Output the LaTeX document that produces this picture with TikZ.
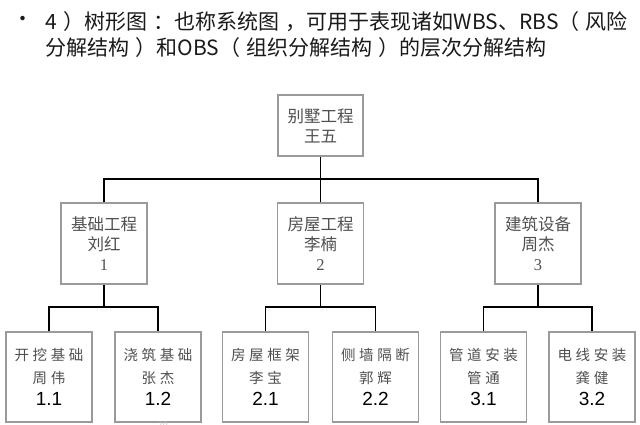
\documentclass[tikz,border=0pt]{standalone}
\usepackage{fontspec}
\setmainfont{Liberation Serif}
\newfontfamily\cjk{Noto Sans CJK SC}
\newfontfamily\cjksp[LetterSpace=25]{Noto Sans CJK SC}
\newfontfamily\numsans{Liberation Sans}
\newfontfamily\numserif{Liberation Serif}
\definecolor{bordergray}{HTML}{9A9A9A}
\definecolor{textgray}{HTML}{505050}
\definecolor{titlecol}{HTML}{1A1A1A}
\newcommand{\ps}{\hspace{0.3em}}
\tikzset{
  box/.style={draw=bordergray, line width=1.5pt, fill=white, inner sep=0pt, align=center, text=textgray},
  topbox/.style={box, minimum width=85pt, minimum height=61pt, font=\cjk\fontsize{16.5}{20}\selectfont},
  midbox/.style={box, minimum width=86pt, minimum height=81pt, font=\cjk\fontsize{16.5}{20}\selectfont},
  botbox/.style={box, minimum width=86pt, minimum height=90pt, font=\cjksp\fontsize{14.5}{22.5}\selectfont},
  link/.style={line width=1.5pt, black},
  titletext/.style={anchor=base west, inner sep=0pt, text=titlecol, font=\cjk\fontsize{21}{24}\selectfont}
}
\begin{document}
\begin{tikzpicture}[x=1pt,y=-1pt]
\clip (0,0) rectangle (640,425);
\fill[white] (0,0) rectangle (640,425);
% title
\node[titletext, anchor=center] (bullet) at (23,21) {•};
\node[titletext] (t1) at (45,29.5) {4\ps）树形图\ps：也称系统图\ps，可用于表现诸如WBS、RBS（\ps 风险};
\node[titletext] (t2) at (45,56) {分解结构\ps）和OBS（\ps 组织分解结构\ps）的层次分解结构};
% tree
\node[topbox] (top) at (320.5,125.5) {别墅工程\\王五};
\node[midbox] (m1) at (104,243.5) {基础工程\\刘红\\{\numserif 1}};
\node[midbox] (m2) at (320.5,243.5) {房屋工程\\李楠\\{\numserif 2}};
\node[midbox] (m3) at (538,243.5) {建筑设备\\周杰\\{\numserif 3}};
\node[botbox] (b11) at (49,377) {开挖基础\\周伟\\{\numsans\fontsize{19}{22.5}\selectfont\color{black}1.1}};
\node[botbox] (b12) at (158,377) {浇筑基础\\张杰\\{\numsans\fontsize{19}{22.5}\selectfont\color{black}1.2}};
\node[botbox] (b21) at (265.5,377) {房屋框架\\李宝\\{\numsans\fontsize{19}{22.5}\selectfont\color{black}2.1}};
\node[botbox] (b22) at (375.5,377) {侧墙隔断\\郭辉\\{\numsans\fontsize{19}{22.5}\selectfont\color{black}2.2}};
\node[botbox] (b31) at (483.5,377) {管道安装\\管通\\{\numsans\fontsize{19}{22.5}\selectfont\color{black}3.1}};
\node[botbox] (b32) at (592,377) {电线安装\\龚健\\{\numsans\fontsize{19}{22.5}\selectfont\color{black}3.2}};
% buses
\coordinate (bus0) at (320.5,179);
\coordinate (bus1) at (104,307);
\coordinate (bus2) at (320.5,307);
\coordinate (bus3) at (538,307);
\draw[link] (top.south) -- (bus0);
\draw[link] (m1.north) |- (bus0) -| (m3.north);
\draw[link] (m2.north) -- (bus0);
\draw[link] (m1.south) -- (bus1);
\draw[link] (b11.north) |- (bus1) -| (b12.north);
\draw[link] (m2.south) -- (bus2);
\draw[link] (b21.north) |- (bus2) -| (b22.north);
\draw[link] (m3.south) -- (bus3);
\draw[link] (b31.north) |- (bus3) -| (b32.north);
% page number
\node[text=black!25, font=\numsans\fontsize{8}{9}\selectfont, inner sep=0pt] (pg) at (163,425) {10};
\end{tikzpicture}
\end{document}
